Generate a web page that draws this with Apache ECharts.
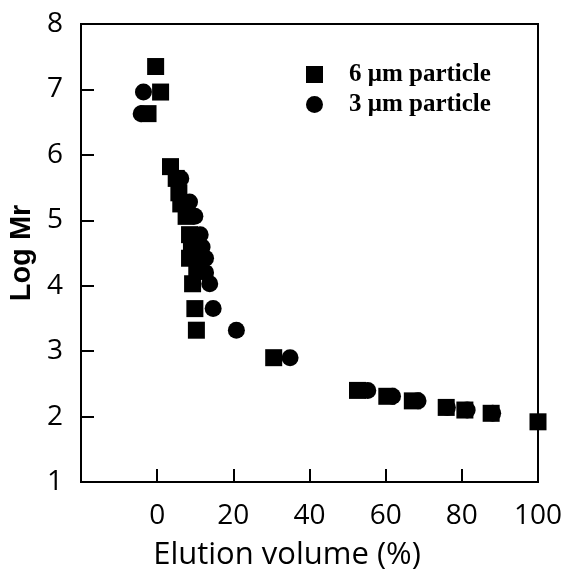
<!DOCTYPE html>
<html>
<head>
<meta charset="utf-8">
<script src="https://cdn.jsdelivr.net/npm/echarts@6/dist/echarts.min.js"></script>
<style>
  html, body { margin: 0; padding: 0; background: #fff; }
  #chart { width: 562px; height: 569px; }
</style>
</head>
<body>
<div id="chart"></div>
<script>
// Elution volume (%) vs Log Mr
const particle6 = [
    [-0.4, 7.35], [0.9, 6.96], [-2.4, 6.63], [3.5, 5.82], [5.0, 5.64],
    [5.7, 5.42], [6.2, 5.25], [7.6, 5.06], [8.5, 4.78], [9.0, 4.59],
    [8.5, 4.42], [10.4, 4.25], [9.3, 4.03], [9.9, 3.65], [10.3, 3.32],
    [30.6, 2.90], [52.6, 2.40], [60.3, 2.31], [67.0, 2.24], [75.9, 2.14],
    [80.8, 2.10], [87.7, 2.05], [100, 1.92]
];
const particle3 = [
    [-3.6, 6.96], [-4.2, 6.63], [6.2, 5.64], [8.5, 5.28], [9.9, 5.06],
    [11.3, 4.78], [11.8, 4.59], [12.7, 4.42], [12.7, 4.20], [13.8, 4.03],
    [14.7, 3.65], [20.8, 3.32], [34.9, 2.90], [55.3, 2.40], [61.8, 2.31],
    [68.5, 2.24], [76.2, 2.14], [81.4, 2.10], [88.1, 2.05]
];
const seriesNames = ['6 \u03bcm particle', '3 \u03bcm particle'];

const chart = echarts.init(document.getElementById('chart'));

const labelFont = {
    color: '#000',
    fontFamily: 'Open Sans',
    fontSize: 28
};

chart.setOption({
    animation: false,
    grid: {
        left: 81,
        right: 24,
        top: 24,
        bottom: 87,
        outerBoundsMode: 'none',
        containLabel: false,
        show: true,
        borderColor: '#000',
        borderWidth: 2
    },
    legend: {
        orient: 'vertical',
        left: 301,
        top: 57,
        itemWidth: 17,
        itemHeight: 17,
        itemGap: 5,
        data: [
            { name: seriesNames[0], icon: 'rect' },
            { name: seriesNames[1], icon: 'circle' }
        ],
        textStyle: {
            color: '#000',
            fontFamily: 'Liberation Serif',
            fontWeight: 'bold',
            fontSize: 25,
            padding: [0, 0, 0, 21]
        }
    },
    xAxis: {
        type: 'value',
        min: -20,
        max: 100,
        interval: 20,
        name: 'Elution volume (%)',
        nameLocation: 'middle',
        nameGap: 58,
        nameTextStyle: {
            color: '#000',
            fontFamily: 'Open Sans',
            fontSize: 31,
            padding: [0, 45, 0, 0]
        },
        axisLine: { lineStyle: { color: '#000', width: 2 } },
        axisTick: { inside: true, length: 13, lineStyle: { color: '#000', width: 2 } },
        axisLabel: Object.assign({
            margin: 20,
            formatter: v => (v < 0 ? '' : String(v))
        }, labelFont),
        splitLine: { show: false }
    },
    yAxis: {
        type: 'value',
        min: 1,
        max: 8,
        interval: 1,
        name: 'Log Mr',
        nameLocation: 'middle',
        nameGap: 42,
        nameTextStyle: {
            color: '#000',
            fontFamily: 'Liberation Sans',
            fontWeight: 'bold',
            fontSize: 29
        },
        axisLine: { onZero: false, lineStyle: { color: '#000', width: 2 } },
        axisTick: { inside: true, length: 13, lineStyle: { color: '#000', width: 2 } },
        axisLabel: Object.assign({ margin: 18 }, labelFont),
        splitLine: { show: false }
    },
    series: [
        {
            name: seriesNames[0],
            type: 'scatter',
            symbol: 'rect',
            symbolSize: 17,
            itemStyle: { color: '#000', opacity: 1 },
            data: particle6
        },
        {
            name: seriesNames[1],
            type: 'scatter',
            symbol: 'circle',
            symbolSize: 17,
            itemStyle: { color: '#000', opacity: 1 },
            data: particle3
        }
    ]
});
</script>
</body>
</html>
